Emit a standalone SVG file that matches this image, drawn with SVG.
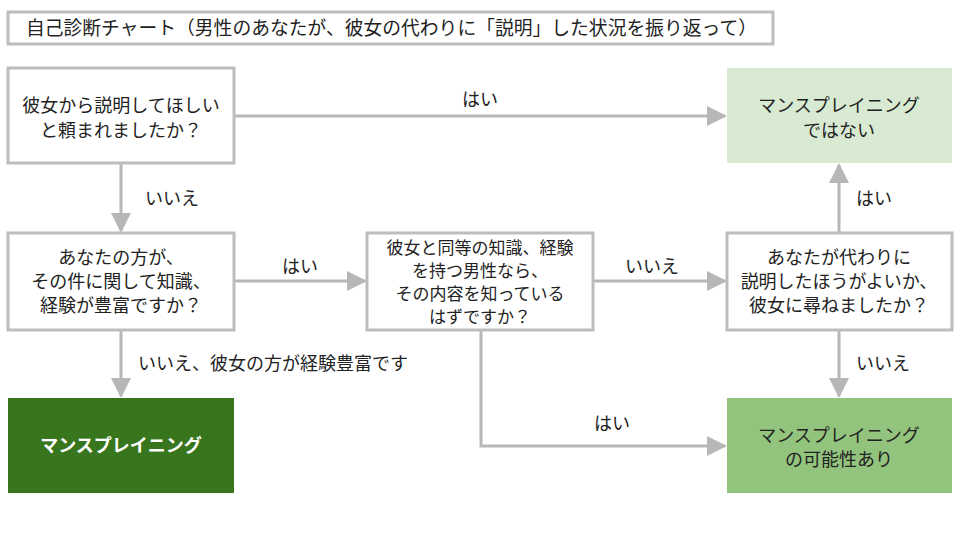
<svg xmlns="http://www.w3.org/2000/svg" width="960" height="540" viewBox="0 0 960 540">
<style>
text{font-family:"Noto Sans CJK JP","Noto Sans",sans-serif;font-size:18px;fill:#222}
.c{text-anchor:middle}
.s{font-size:17px}
.box{fill:#fff;stroke:#bdbdbd;stroke-width:3}
.ln{stroke:#b7b7b7;stroke-width:3;fill:none;marker-end:url(#ah2)}
</style>
<defs><marker id="ah2" viewBox="0 0 10 10" refX="9" refY="5" markerWidth="24" markerHeight="20" orient="auto" markerUnits="userSpaceOnUse"><path d="M0,0L10,5L0,10Z" fill="#b7b7b7"/></marker></defs>
<rect width="960" height="540" fill="#fff"/>
<g id="title"><rect class="box" x="8" y="12" width="765" height="32"/><text x="26" y="35" style="font-size:18.8px">自己診断チャート（男性のあなたが、彼女の代わりに「説明」した状況を振り返って）</text></g>
<g id="connectors">
<path class="ln" d="M234,116H725"/>
<path class="ln" d="M121,163V231"/>
<path class="ln" d="M234,281H365"/>
<path class="ln" d="M121,330V396"/>
<path class="ln" d="M593,281H725"/>
<path class="ln" d="M481,330V446H725"/>
<path class="ln" d="M839,233V165"/>
<path class="ln" d="M839,330V396"/>
<text class="c" x="480" y="106">はい</text>
<text x="145" y="205">いいえ</text>
<text class="c" x="300" y="273">はい</text>
<text x="138" y="370">いいえ、彼女の方が経験豊富です</text>
<text class="c" x="652" y="273">いいえ</text>
<text class="c" x="612" y="430">はい</text>
<text x="856" y="205">はい</text>
<text x="856" y="370">いいえ</text>
</g>
<g id="q1"><rect class="box" x="8" y="68" width="226" height="95"/><text class="c" x="121" y="112">彼女から説明してほしい</text><text class="c" x="121" y="137">と頼まれましたか？</text></g>
<g id="notms"><rect x="727" y="68" width="225" height="95" fill="#d9ead3"/><text class="c" x="839" y="112">マンスプレイニング</text><text class="c" x="839" y="137">ではない</text></g>
<g id="q2"><rect class="box" x="8" y="233" width="226" height="97"/><text class="c" x="121" y="264">あなたの方が、</text><text class="c" x="121" y="288">その件に関して知識、</text><text class="c" x="121" y="312">経験が豊富ですか？</text></g>
<g id="q3"><rect class="box" x="367" y="233" width="226" height="97"/><text class="c s" x="480" y="254">彼女と同等の知識、経験</text><text class="c s" x="480" y="277">を持つ男性なら、</text><text class="c s" x="480" y="300">その内容を知っている</text><text class="c s" x="480" y="323">はずですか？</text></g>
<g id="q4"><rect class="box" x="727" y="233" width="225" height="97"/><text class="c" x="839" y="264">あなたが代わりに</text><text class="c" x="839" y="288">説明したほうがよいか、</text><text class="c" x="839" y="312">彼女に尋ねましたか？</text></g>
<g id="ms"><rect x="8" y="398" width="226" height="95" fill="#38761d"/><text class="c" x="121" y="452" style="fill:#fff;font-weight:bold">マンスプレイニング</text></g>
<g id="maybe"><rect x="727" y="398" width="225" height="95" fill="#93c47d"/><text class="c" x="839" y="442">マンスプレイニング</text><text class="c" x="839" y="466">の可能性あり</text></g>
</svg>
